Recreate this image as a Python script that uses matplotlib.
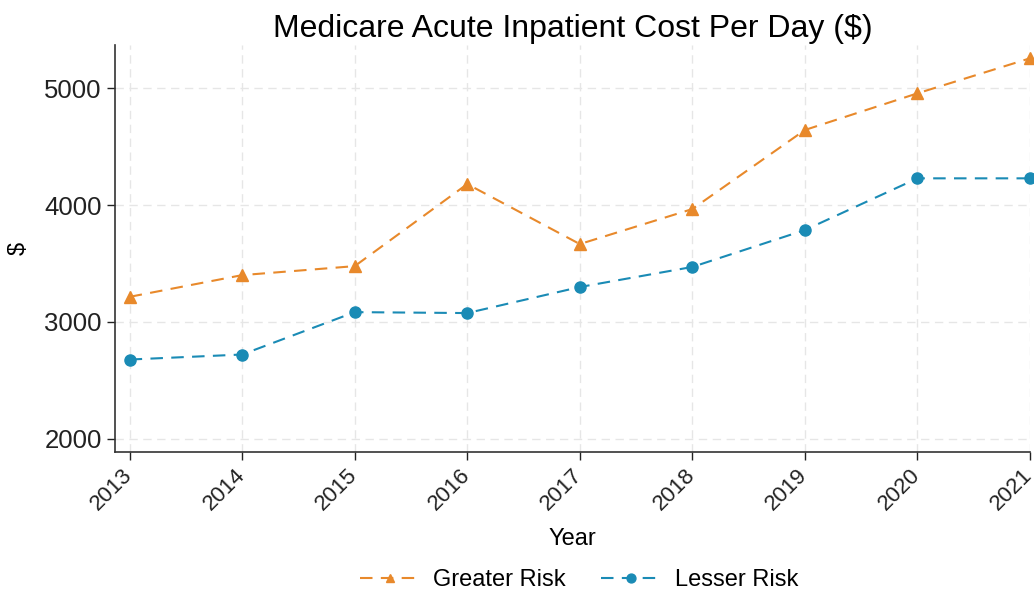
import matplotlib
matplotlib.use("Agg")
import matplotlib.pyplot as plt
from matplotlib.transforms import ScaledTranslation

years = [2013, 2014, 2015, 2016, 2017, 2018, 2019, 2020, 2021]
greater_risk = [3214, 3400, 3477, 4180, 3666, 3966, 4643, 4957, 5257]
lesser_risk = [2677, 2720, 3083, 3075, 3298, 3470, 3786, 4229, 4229]
y_ticks = [2000, 3000, 4000, 5000]

plt.rcParams['font.family'] = ['Liberation Sans', 'DejaVu Sans']

fig = plt.figure(figsize=(10.34, 5.97), dpi=100)
ax = fig.add_axes([115/1034, 1 - 452/597, (1030-115)/1034, (452-45)/597])

orange = '#e8892b'
blue = '#1a8bb5'
ax.plot(years, greater_risk, color=orange, linestyle=(0, (6, 4)), linewidth=1.5,
        marker='^', markersize=8, label='Greater Risk', clip_on=False)
ax.plot(years, lesser_risk, color=blue, linestyle=(0, (6, 4)), linewidth=1.5,
        marker='o', markersize=8, label='Lesser Risk', clip_on=False)

ax.set_xlim(2012.87, 2021.0)
ax.set_ylim(1885, 5371)
ax.set_yticks(y_ticks)
ax.set_xticks(years)
ax.set_xticklabels([str(y) for y in years], rotation=45, ha='right', rotation_mode='anchor')
ax.tick_params(axis='y', labelsize=18.5, colors='#222222', length=6, width=1)
ax.tick_params(axis='x', labelsize=16, colors='#222222', length=6, width=1, pad=3)
offset = ScaledTranslation(-8/100, 0, fig.dpi_scale_trans)
for lbl in ax.get_xticklabels():
    lbl.set_transform(lbl.get_transform() + offset)

ax.grid(True, color='#e6e6e6', linestyle=(0, (6, 4)), linewidth=1)
ax.set_axisbelow(True)
for s in ['top', 'right']:
    ax.spines[s].set_visible(False)
for s in ['left', 'bottom']:
    ax.spines[s].set_color('#333333')
    ax.spines[s].set_linewidth(1.2)

ax.set_title('Medicare Acute Inpatient Cost Per Day ($)', fontsize=23, pad=6)
ax.set_xlabel('Year', fontsize=17, labelpad=10)
ax.set_ylabel('$', fontsize=17)
ax.yaxis.set_label_coords((30 - 115) / 915, 0.5)

fig.legend(loc='center', bbox_to_anchor=(0.56, 1 - 580/597), ncol=2, frameon=False,
           fontsize=17, handlelength=2.5, columnspacing=1.5, handletextpad=0.6,
           markerscale=0.8)

fig.savefig('out.png', dpi=100, facecolor='white')
